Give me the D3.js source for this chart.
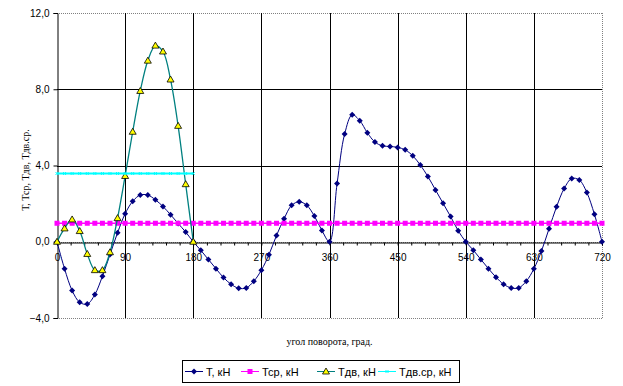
<!DOCTYPE html>
<html>
<head>
<meta charset="utf-8">
<script src="https://cdn.jsdelivr.net/npm/d3@7"></script>
<style>
    body { margin: 0; background: #fff; }
    svg { display: block; }
</style>
</head>
<body>
<svg id="chart"></svg>
<script>
// angle, grad
const angles = [0, 10, 20, 30, 40, 50, 60, 70, 80, 90, 100, 110, 120, 130, 140, 150, 160, 170, 180,
    190, 200, 210, 220, 230, 240, 250, 260, 270, 280, 290, 300, 310, 320, 330, 340, 350, 360,
    370, 380, 390, 400, 410, 420, 430, 440, 450, 460, 470, 480, 490, 500, 510, 520, 530, 540,
    550, 560, 570, 580, 590, 600, 610, 620, 630, 640, 650, 660, 670, 680, 690, 700, 710, 720];

const tValues = [0, -1.42, -2.56, -3.18, -3.27, -2.77, -1.81, -0.67, 0.47, 1.47, 2.12, 2.45, 2.45, 2.2, 1.85, 1.42, 0.96, 0.51, 0,
    -0.45, -0.93, -1.41, -1.88, -2.23, -2.44, -2.42, -2.07, -1.49, -0.68, 0.33, 1.21, 1.91, 2.1, 1.91, 1.35, 0.59, 0,
    3.05, 5.65, 6.66, 6.35, 5.72, 5.23, 5.03, 5.0, 4.95, 4.82, 4.51, 4.02, 3.42, 2.72, 2.02, 1.32, 0.58, 0,
    -0.44, -0.93, -1.41, -1.86, -2.23, -2.42, -2.42, -2.07, -1.42, -0.49, 0.68, 1.84, 2.79, 3.32, 3.24, 2.58, 1.44, 0];

const tSrValues = [0.97, 0.97, 0.97, 0.97, 0.97, 0.97, 0.97, 0.97, 0.97, 0.97, 0.97, 0.97, 0.97, 0.97, 0.97, 0.97, 0.97, 0.97, 0.97,
    0.97, 0.97, 0.97, 0.97, 0.97, 0.97, 0.97, 0.97, 0.97, 0.97, 0.97, 0.97, 0.97, 0.97, 0.97, 0.97, 0.97, 0.97,
    0.97, 0.97, 0.97, 0.97, 0.97, 0.97, 0.97, 0.97, 0.97, 0.97, 0.97, 0.97, 0.97, 0.97, 0.97, 0.97, 0.97, 0.97,
    0.97, 0.97, 0.97, 0.97, 0.97, 0.97, 0.97, 0.97, 0.97, 0.97, 0.97, 0.97, 0.97, 0.97, 0.97, 0.97, 0.97, 0.97];

// Tдв and Tдв.ср only cover the first 180 grad
const tDvValues = [0, 0.7, 1.17, 0.56, -0.64, -1.49, -1.49, -0.55, 1.24, 3.45, 5.77, 7.91, 9.5, 10.29, 9.98, 8.51, 6.08, 3.02, 0];
const tDvSrValues = [3.58, 3.58, 3.58, 3.58, 3.58, 3.58, 3.58, 3.58, 3.58, 3.58, 3.58, 3.58, 3.58, 3.58, 3.58, 3.58, 3.58, 3.58, 3.58];

const seriesNames = ["Т, кН", "Тср, кН", "Тдв, кН", "Тдв.ср, кН"];
const xTickLabels = [0, 90, 180, 270, 360, 450, 540, 630, 720];
const xMinorTicks = d3.range(0, 721, 18);
const yTickLabels = [-4, 0, 4, 8, 12];

class LineChart {
    margin = { top: 13, right: 21, bottom: 68, left: 57 }

    constructor(svg, width = 623, height = 386) {
        this.svg = svg;
        this.width = width - this.margin.left - this.margin.right;
        this.height = height - this.margin.top - this.margin.bottom;
    }

    initialize() {
        this.svg = d3.select(this.svg)
            .attr("width", this.width + this.margin.left + this.margin.right)
            .attr("height", this.height + this.margin.top + this.margin.bottom);

        this.container = this.svg.append("g")
            .attr("transform", `translate(${this.margin.left}, ${this.margin.top})`);

        this.x = d3.scaleLinear().domain([0, 720]).range([0, this.width]);
        this.y = d3.scaleLinear().domain([-4, 12]).range([this.height, 0]);
    }

    drawGrid() {
        const x = this.x, y = this.y;
        const grid = this.container.append("g").attr("shape-rendering", "crispEdges");

        grid.selectAll(".hgrid")
            .data(yTickLabels)
            .join("line")
            .attr("x1", 0).attr("x2", this.width)
            .attr("y1", d => Math.round(y(d)) + 0.5).attr("y2", d => Math.round(y(d)) + 0.5)
            .attr("stroke", d => (d === 4 || d === 8) ? "#000" : "#808080")
            .attr("stroke-dasharray", d => (d === 4 || d === 8) ? null : "1,1");

        grid.selectAll(".vgrid")
            .data(xTickLabels.filter(d => d > 0))
            .join("line")
            .attr("x1", d => Math.round(x(d)) + 0.5).attr("x2", d => Math.round(x(d)) + 0.5)
            .attr("y1", 0).attr("y2", this.height)
            .attr("stroke", d => d === 720 ? "#808080" : "#000")
            .attr("stroke-dasharray", d => d === 720 ? "1,1" : null);
    }

    drawAxes() {
        const x = this.x, y = this.y;
        const fmt = d => d3.format(".1f")(d).replace(".", ",");

        const yAxis = this.container.append("g")
            .attr("transform", "translate(0.5, 0)")
            .call(d3.axisLeft(y).tickValues(yTickLabels).tickSize(4).tickPadding(4).tickFormat(fmt));
        yAxis.select(".domain").attr("stroke", "#000");
        yAxis.selectAll("text").attr("font-family", "'Liberation Sans', Arial, sans-serif").attr("font-size", 10).attr("fill", "#000");

        const zeroY = Math.round(y(0)) + 0.5;
        const xMinor = this.container.append("g")
            .attr("transform", `translate(0, ${zeroY})`)
            .call(d3.axisBottom(x).tickValues(xMinorTicks).tickSize(3).tickFormat(""));
        xMinor.select(".domain").attr("stroke", "#000");

        const xLabels = this.container.append("g")
            .attr("transform", `translate(0, ${zeroY})`)
            .call(d3.axisBottom(x).tickValues(xTickLabels).tickSize(0).tickPadding(11).tickFormat(d3.format("d")));
        xLabels.select(".domain").remove();
        xLabels.selectAll("text").attr("font-family", "'Liberation Sans', Arial, sans-serif").attr("font-size", 10).attr("fill", "#000");

        this.svg.append("text")
            .attr("x", this.margin.left + this.width / 2)
            .attr("y", 345)
            .attr("text-anchor", "middle")
            .attr("font-family", "'Liberation Serif', 'Times New Roman', serif")
            .attr("font-size", 10)
            .text("угол поворота, град.");

        this.svg.append("text")
            .attr("transform", "translate(29, 170) rotate(-90)")
            .attr("text-anchor", "middle")
            .attr("font-family", "'Liberation Serif', 'Times New Roman', serif")
            .attr("font-size", 10)
            .text("Т, Тср, Тдв, Тдв.ср.");
    }

    drawSeries(xs, ys, color, width, marker) {
        const x = this.x, y = this.y;
        const pts = xs.map((d, i) => [x(d), y(ys[i])]);
        const line = d3.line().curve(d3.curveCatmullRom.alpha(0.5));

        this.container.append("path")
            .attr("d", line(pts))
            .attr("fill", "none")
            .attr("stroke", color)
            .attr("stroke-width", width);

        const g = this.container.append("g");
        pts.forEach(p => marker(g, p[0], p[1]));
    }

    update() {
        this.drawGrid();
        this.drawAxes();
        this.drawSeries(angles, tValues, "#000080", 1, diamond);
        this.drawSeries(angles, tSrValues, "#ff00ff", 1.5, square);
        this.drawSeries(angles.slice(0, tDvValues.length), tDvValues, "#008080", 1.3, triangle);
        this.drawSeries(angles.slice(0, tDvSrValues.length), tDvSrValues, "#00ffff", 2, cross);
        this.drawLegend();
    }

    drawLegend() {
        const legend = this.svg.append("g");
        legend.append("rect")
            .attr("x", 182.5).attr("y", 360.5)
            .attr("width", 277).attr("height", 22)
            .attr("fill", "#fff").attr("stroke", "#000");

        const itemX = [185, 241, 317, 378];
        const colors = ["#000080", "#ff00ff", "#008080", "#00ffff"];
        const markers = [diamond, square, triangle, cross];
        const ly = 371.5;
        seriesNames.forEach((name, i) => {
            legend.append("line")
                .attr("x1", itemX[i]).attr("x2", itemX[i] + 18)
                .attr("y1", ly).attr("y2", ly)
                .attr("stroke", colors[i]).attr("stroke-width", 1);
            markers[i](legend, itemX[i] + 9, ly);
            legend.append("text")
                .attr("x", itemX[i] + 21).attr("y", ly + 4)
                .attr("font-family", "'Liberation Sans', Arial, sans-serif")
                .attr("font-size", 11)
                .text(name);
        });
    }
}

function diamond(g, cx, cy) {
    g.append("path")
        .attr("d", `M${cx},${cy - 3}L${cx + 3},${cy}L${cx},${cy + 3}L${cx - 3},${cy}Z`)
        .attr("fill", "#000080");
}

function square(g, cx, cy) {
    g.append("rect")
        .attr("x", cx - 2.5).attr("y", cy - 2.5)
        .attr("width", 5).attr("height", 5)
        .attr("fill", "#ff00ff");
}

function triangle(g, cx, cy) {
    g.append("path")
        .attr("d", `M${cx},${cy - 3.5}L${cx + 3.5},${cy + 2.5}L${cx - 3.5},${cy + 2.5}Z`)
        .attr("fill", "#ffff00")
        .attr("stroke", "#000")
        .attr("stroke-width", 0.8);
}

function cross(g, cx, cy) {
    g.append("path")
        .attr("d", `M${cx - 1.5},${cy - 1.5}L${cx + 1.5},${cy + 1.5}M${cx - 1.5},${cy + 1.5}L${cx + 1.5},${cy - 1.5}`)
        .attr("stroke", "#00ffff")
        .attr("stroke-width", 1);
}

const chart = new LineChart(document.getElementById("chart"));
chart.initialize();
chart.update();
</script>
</body>
</html>
